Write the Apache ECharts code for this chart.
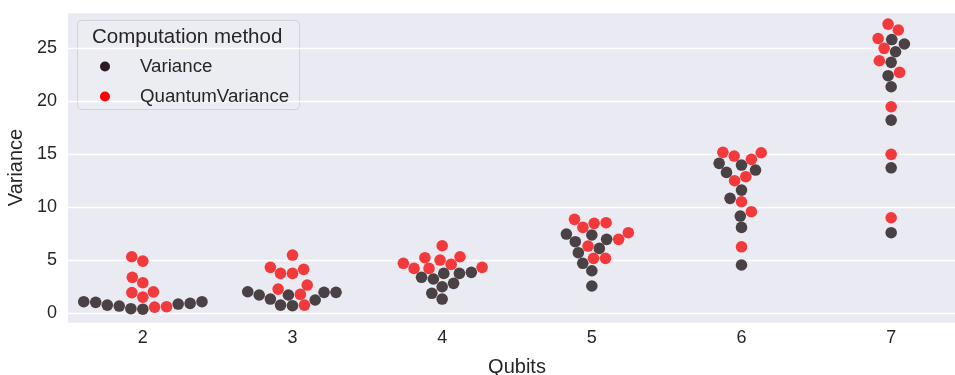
<!DOCTYPE html>
<html><head><meta charset="utf-8">
<script src="https://cdn.jsdelivr.net/npm/echarts@6/dist/echarts.min.js"></script>
<style>html,body{margin:0;padding:0;background:#fff}#c{width:955px;height:375px}</style>
</head><body><div id="c"></div>
<script>
// ---- data ----
const qubits = ['2', '3', '4', '5', '6', '7'];
const variance = [
  [1.07, 0.91, 0.75, 0.66, 0.36, 0.41, 0.85, 1.01, 1.07],
  [2.01, 1.70, 1.23, 0.75, 0.69, 1.95, 1.32, 1.70, 1.95],
  [3.74, 3.21, 3.74, 2.48, 2.80, 3.37, 3.84, 1.86, 1.32],
  [6.95, 7.36, 7.45, 6.73, 6.10, 5.69, 4.69, 3.99, 2.55],
  [13.96, 13.49, 14.12, 13.27, 11.60, 10.82, 9.15, 8.08, 4.53],
  [25.80, 25.38, 24.65, 23.65, 22.39, 21.35, 18.20, 13.70, 7.58]
];
const quantumVariance = [
  [5.31, 4.90, 3.37, 2.86, 1.93, 1.50, 2.00, 0.60, 0.56],
  [5.47, 4.31, 3.74, 3.74, 4.12, 2.26, 1.76, 2.64, 0.75],
  [6.35, 5.31, 5.00, 4.59, 5.22, 4.21, 4.21, 4.69, 4.31],
  [8.84, 8.08, 8.46, 8.52, 7.58, 6.95, 6.32, 5.16, 5.16],
  [15.12, 14.81, 14.50, 15.16, 12.48, 12.86, 10.50, 9.56, 6.25],
  [27.26, 26.70, 25.90, 24.97, 23.80, 22.70, 19.46, 14.97, 8.99]
];
const yTicks = [0, 5, 10, 15, 20, 25];
const seriesNames = ['Variance', 'QuantumVariance'];

// ---- layout ----
const W = 955, H = 375;
const G = { left: 68, right: -11, top: 12, bottom: 52 };
const yMin = -0.94, yMax = 28.4;
const gridW = W - G.left - G.right, gridH = H - G.top - G.bottom;
const pxCat = gridW / qubits.length, pxUnit = gridH / (yMax - yMin);
const R = 5.7, SYM = 11.6;
const FONT = '"Liberation Sans", Arial, sans-serif';
const TXT = '#262626';

// seaborn-style beeswarm in pixel space
function swarm(points) {
  const pts = points.map(p => Object.assign({}, p, { x: 0, y: p.v * pxUnit, r: R }));
  const order = pts.slice().sort((a, b) => a.y - b.y);
  const placed = [order[0]];
  for (let k = 1; k < order.length; k++) {
    const p = order[k];
    const nb = [];
    for (let j = placed.length - 1; j >= 0; j--) {
      const q = placed[j];
      if (p.y - q.y < p.r + q.r) nb.push(q); else break;
    }
    const cands = [0];
    let leftFirst = true;
    for (const q of nb) {
      const dy = p.y - q.y;
      const dx = Math.sqrt(Math.max((p.r + q.r) ** 2 - dy * dy, 0)) * 1.05;
      if (leftFirst) cands.push(q.x - dx, q.x + dx); else cands.push(q.x + dx, q.x - dx);
      leftFirst = !leftFirst;
    }
    const idx = cands.map((c, i) => i).sort((a, b) => (Math.abs(cands[a]) - Math.abs(cands[b])) || (a - b));
    let chosen = 0;
    if (nb.length) {
      for (const i of idx) {
        const cx = cands[i];
        if (nb.every(q => (q.x - cx) ** 2 + (q.y - p.y) ** 2 >= (q.r + p.r) ** 2)) { chosen = cx; break; }
      }
    }
    p.x = chosen;
    placed.push(p);
  }
  const half = 0.8 * pxCat / 2;
  pts.forEach(p => { p.x = Math.max(-half, Math.min(half, p.x)); });
  return pts;
}

const seriesData = [[], []];
qubits.forEach((q, c) => {
  const pts = [];
  variance[c].forEach(v => pts.push({ v, s: 0 }));
  quantumVariance[c].forEach(v => pts.push({ v, s: 1 }));
  swarm(pts).forEach(p => seriesData[p.s].push([c + p.x / pxCat, p.v]));
});

const chart = echarts.init(document.getElementById('c'), null, { renderer: 'canvas' });
chart.setOption({
  animation: false,
  backgroundColor: '#ffffff',
  grid: Object.assign({ show: true, backgroundColor: '#eaeaf2', borderWidth: 0, containLabel: false, outerBoundsMode: 'none' }, G),
  xAxis: [
    {
      type: 'category', data: qubits, boundaryGap: true,
      axisLine: { show: false }, axisTick: { show: false }, splitLine: { show: false },
      axisLabel: { fontSize: 18, color: TXT, fontFamily: FONT, margin: 6 },
      name: 'Qubits', nameLocation: 'middle', nameGap: 34,
      nameTextStyle: { fontSize: 20, color: TXT, fontFamily: FONT }
    },
    { type: 'value', min: -0.5, max: qubits.length - 0.5, show: false }
  ],
  yAxis: {
    type: 'value', min: yMin, max: yMax, splitNumber: 6,
    axisLine: { show: false }, axisTick: { show: false },
    splitLine: { lineStyle: { color: '#ffffff', width: 1.3 } },
    axisLabel: {
      fontSize: 18, color: TXT, fontFamily: FONT, margin: 11,
      formatter: v => (yTicks.indexOf(Math.round(v * 1000) / 1000) >= 0 ? String(Math.round(v)) : '')
    },
    name: 'Variance', nameLocation: 'middle', nameGap: 40,
    nameTextStyle: { fontSize: 20, color: TXT, fontFamily: FONT }
  },
  legend: {
    orient: 'vertical', left: 100, top: 57, itemWidth: 10, itemHeight: 10, itemGap: 11,
    icon: 'circle', padding: 0,
    textStyle: { fontSize: 18.7, color: TXT, fontFamily: FONT, padding: [0, 0, 0, 25] },
    data: [
      { name: seriesNames[0], itemStyle: { color: '#2b1d1f', opacity: 1 } },
      { name: seriesNames[1], itemStyle: { color: '#ff0000', opacity: 1 } }
    ]
  },
  graphic: [
    {
      type: 'rect', left: 77, top: 20, z: 0,
      shape: { width: 222, height: 89, r: 4 },
      style: { fill: 'rgba(236,236,243,0.85)', stroke: '#d2d2d8', lineWidth: 1 }
    },
    {
      type: 'text', left: 92, top: 27, z: 1,
      style: { text: 'Computation method', fontSize: 20.5, fill: TXT, fontFamily: FONT }
    }
  ],
  series: [
    {
      name: seriesNames[0], type: 'scatter', xAxisIndex: 1, symbolSize: SYM,
      itemStyle: { color: '#4a4144', opacity: 1 }, data: seriesData[0]
    },
    {
      name: seriesNames[1], type: 'scatter', xAxisIndex: 1, symbolSize: SYM,
      itemStyle: { color: '#f23a3c', opacity: 1 }, data: seriesData[1]
    }
  ]
});
</script>
</body></html>
